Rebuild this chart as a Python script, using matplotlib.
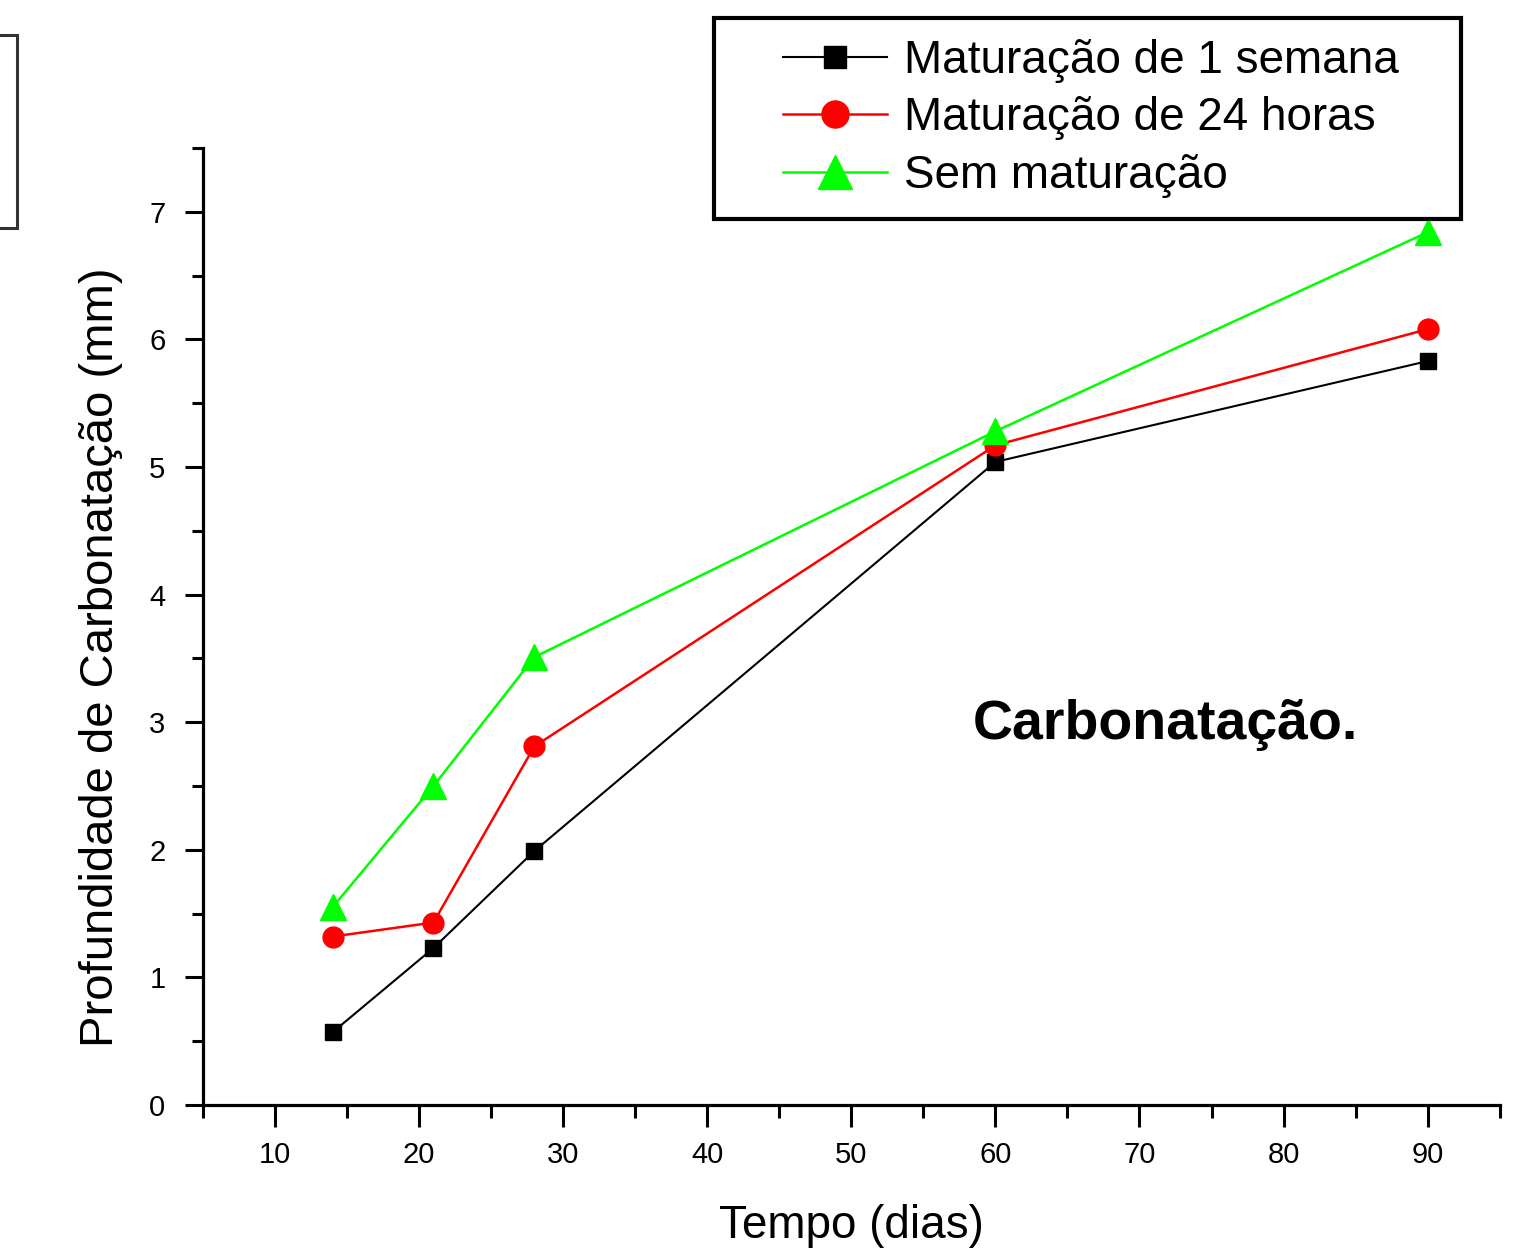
import matplotlib.pyplot as plt
from matplotlib.patches import Rectangle
from matplotlib.ticker import MultipleLocator
from matplotlib.legend_handler import HandlerLine2D

plt.rcParams['font.family'] = ['Liberation Sans', 'DejaVu Sans']

dias = [14, 21, 28, 60, 90]
semana_1 = [0.57, 1.23, 1.99, 5.04, 5.83]
horas_24 = [1.32, 1.43, 2.81, 5.17, 6.08]
sem_mat = [1.55, 2.50, 3.51, 5.28, 6.84]


class ShiftedLine(HandlerLine2D):
    # empurra a linha da legenda para a direita (estilo Origin)
    shift = 35

    def create_artists(self, legend, orig_handle, xdescent, ydescent,
                       width, height, fontsize, trans):
        return super().create_artists(legend, orig_handle, xdescent - self.shift,
                                      ydescent, width - self.shift, height,
                                      fontsize, trans)


fig = plt.figure(figsize=(15.35, 12.48), dpi=100)
ax = fig.add_axes([0.1322, 0.1146, 0.977 - 0.1322, 0.8814 - 0.1146])

l1, = ax.plot(dias, semana_1, color='black', lw=1.5, marker='s', ms=12,
              label='Maturação de 1 semana')
l2, = ax.plot(dias, horas_24, color='#ff0000', lw=1.8, marker='o', ms=15,
              label='Maturação de 24 horas')
l3, = ax.plot(dias, sem_mat, color='#00ff00', lw=1.8, marker='^', ms=19,
              label='Sem maturação')

ax.set_xlim(5, 95)
ax.set_ylim(0, 7.5)
ax.xaxis.set_major_locator(MultipleLocator(10))
ax.xaxis.set_minor_locator(MultipleLocator(5))
ax.yaxis.set_major_locator(MultipleLocator(1))
ax.yaxis.set_minor_locator(MultipleLocator(0.5))

for s in ['top', 'right']:
    ax.spines[s].set_visible(False)
for s in ['left', 'bottom']:
    ax.spines[s].set_linewidth(2.3)

ax.tick_params(axis='x', which='major', direction='out', length=16, width=2.2,
               labelsize=21, pad=10)
ax.tick_params(axis='x', which='minor', direction='out', length=9.5, width=2.2)
ax.tick_params(axis='y', which='major', direction='out', length=13, width=2.2,
               labelsize=21, pad=14)
ax.tick_params(axis='y', which='minor', direction='out', length=8, width=2.2)

ax.set_xlabel('Tempo (dias)', fontsize=33)
ax.set_ylabel('Profundidade de Carbonatação (mm)', fontsize=34)
ax.xaxis.set_label_coords(0.5, -0.103)
ax.yaxis.set_label_coords(-0.062, 0.468)

ax.text(973, 1248 - 725, 'Carbonatação.', transform=None, fontsize=40,
        fontweight='bold', va='center', ha='left')

h = ShiftedLine()
leg = fig.legend(handles=[l1, l2, l3], loc='upper left', mode='expand',
                 bbox_to_anchor=(0.465, 0.829, 0.487, 0.1566), fontsize=33,
                 frameon=True, fancybox=False, edgecolor='black', framealpha=1,
                 handlelength=3.34, handletextpad=0.37, borderpad=0.45,
                 labelspacing=0.3, borderaxespad=0, markerscale=1.3,
                 handler_map={l1: h, l2: h, l3: h})
leg.get_frame().set_linewidth(3)

fig.patches.append(Rectangle((-0.01, 0.817), 0.021, 0.155, transform=fig.transFigure,
                             fill=False, edgecolor='#333333', lw=2.2))

fig.savefig('out.png', dpi=100)
